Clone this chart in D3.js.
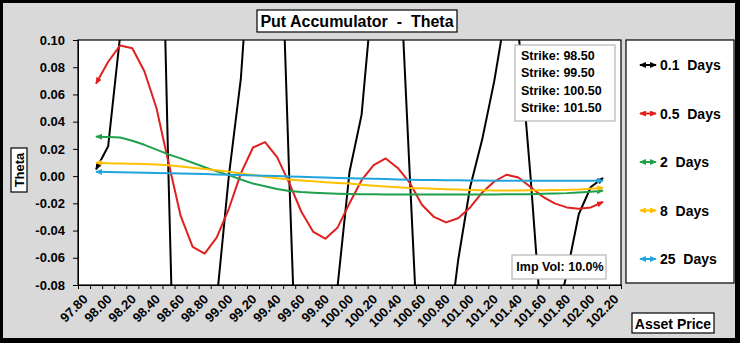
<!DOCTYPE html>
<html><head><meta charset="utf-8">
<script src="https://cdn.jsdelivr.net/npm/d3@7"></script>
<style>
body{margin:0;background:#000;}
svg{display:block;font-family:"Liberation Sans",Arial,sans-serif;font-weight:bold;}
</style>
</head><body><svg id="c" width="740" height="343"></svg>
<script>
// ---- data ----
const prices = [97.9,98.0,98.1,98.2,98.3,98.4,98.5,98.6,98.7,98.8,98.9,99.0,99.1,99.2,99.3,99.4,99.5,99.6,99.7,99.8,99.9,
  100.0,100.1,100.2,100.3,100.4,100.5,100.6,100.7,100.8,100.9,101.0,101.1,101.2,101.3,101.4,101.5,101.6,101.7,101.8,101.9,102.0,102.1];
const xTickLabels = ["97.80","98.00","98.20","98.40","98.60","98.80","99.00","99.20","99.40","99.60","99.80","100.00",
  "100.20","100.40","100.60","100.80","101.00","101.20","101.40","101.60","101.80","102.00","102.20"];
const yTicks = [0.10,0.08,0.06,0.04,0.02,0.00,-0.02,-0.04,-0.06,-0.08];
const theta01 = [0.005,0.022,0.104,0.22,0.33,0.38,0.000,-0.34,-0.30,-0.20,-0.091,0.000,0.072,0.20,0.26,0.27,0.001,-0.25,-0.22,-0.15,-0.082,
  0.003,0.045,0.143,0.19,0.187,0.000,-0.186,-0.17,-0.133,-0.062,-0.008,0.027,0.070,0.123,0.107,0.000,-0.12,-0.11,-0.072,-0.028,-0.008,-0.0015];
const theta05 = [0.068,0.084,0.096,0.094,0.077,0.050,0.010,-0.029,-0.052,-0.057,-0.045,-0.024,0.002,0.021,0.025,0.014,-0.005,-0.026,-0.041,-0.046,-0.038,
  -0.020,-0.003,0.008,0.013,0.006,-0.005,-0.021,-0.030,-0.034,-0.031,-0.023,-0.012,-0.004,0.001,-0.001,-0.008,-0.015,-0.020,-0.023,-0.024,-0.023,-0.019];
const theta2 = [0.029,0.0288,0.0283,0.026,0.023,0.0195,0.016,0.013,0.0098,0.0065,0.0035,0.0007,-0.0025,-0.0055,-0.0075,-0.0095,-0.011,-0.0117,-0.0122,-0.0126,-0.0129,
  -0.0131,-0.0133,-0.0134,-0.0135,-0.0135,-0.0135,-0.0135,-0.0135,-0.0135,-0.0135,-0.0135,-0.0135,-0.0135,-0.0134,-0.0134,-0.0133,-0.013,-0.0128,-0.0125,-0.012,-0.0115,-0.0107];
const theta8 = [0.0099,0.0095,0.0093,0.0091,0.0089,0.0085,0.0079,0.0071,0.0062,0.0053,0.0043,0.0033,0.0020,0.0009,-0.0005,-0.0016,-0.0025,-0.0032,-0.0038,-0.0045,-0.0050,
  -0.0055,-0.0063,-0.0070,-0.0076,-0.0082,-0.0087,-0.0090,-0.0093,-0.0096,-0.0099,-0.0102,-0.0104,-0.0106,-0.0106,-0.0105,-0.0104,-0.0103,-0.0102,-0.0101,-0.0098,-0.0092,-0.0085];
const theta25 = [0.0032,0.0030,0.0028,0.0027,0.0025,0.0023,0.0021,0.0019,0.0017,0.0015,0.0012,0.0010,0.0008,0.0005,0.0003,0.0000,-0.0003,-0.0005,-0.0008,-0.0010,-0.0013,
  -0.0015,-0.0018,-0.0020,-0.0022,-0.0024,-0.0026,-0.0028,-0.0029,-0.0030,-0.0031,-0.0032,-0.0033,-0.0034,-0.0034,-0.0034,-0.0034,-0.0034,-0.0034,-0.0034,-0.0034,-0.0034,-0.0034];
const seriesNames = ["0.1  Days","0.5  Days","2  Days","8  Days","25  Days"];
const seriesColors = ["#000000","#e0201f","#1fa04b","#ffc000","#1fa5db"];
const strikes = ["98.50","99.50","100.50","101.50"];
const impVol = "10.0%";
const chartTitle = "Put Accumulator  -  Theta";

// ---- drawing ----
const seriesValues = [theta01, theta05, theta2, theta8, theta25];
const svg = d3.select("#c");
const W = 740, H = 343;
const L = 78, R = 621, T = 40, B = 285;

svg.append("rect").attr("x",0).attr("y",0).attr("width",W).attr("height",H).attr("fill","#000");
svg.append("rect").attr("x",3).attr("y",3).attr("width",732).attr("height",335).attr("fill","#d9d9d9");

const x = d3.scaleLinear().domain([97.75, 102.25]).range([L, R]);
const y = d3.scaleLinear().domain([-0.08, 0.10]).range([B, T]);

const defs = svg.append("defs");
defs.append("clipPath").attr("id","plotclip").append("rect").attr("x",L).attr("y",T).attr("width",R-L).attr("height",B-T);
seriesColors.forEach((c,i)=>{
  defs.append("marker").attr("id","arr"+i).attr("viewBox","0 0 7 6").attr("refX",6).attr("refY",3)
    .attr("markerWidth",7).attr("markerHeight",6).attr("markerUnits","userSpaceOnUse").attr("orient","auto-start-reverse")
    .append("path").attr("d","M0,0 L7,3 L0,6 Z").attr("fill",c);
});

// plot area
svg.append("rect").attr("x",L).attr("y",T).attr("width",R-L).attr("height",B-T).attr("fill","#fff");

// series
const gLines = svg.append("g").attr("clip-path","url(#plotclip)");
const line = d3.line().x((d,i)=>x(prices[i])).y(d=>y(d));
seriesValues.forEach((vals,i)=>{
  gLines.append("path").attr("d", line(vals)).attr("fill","none").attr("stroke",seriesColors[i])
    .attr("stroke-width",2).attr("stroke-linejoin","round")
    .attr("marker-start","url(#arr"+i+")").attr("marker-end","url(#arr"+i+")");
});

svg.append("rect").attr("x",L).attr("y",T).attr("width",R-L).attr("height",B-T).attr("fill","none").attr("stroke","#000").attr("stroke-width",1.2);

// y axis
const yAxis = svg.append("g").attr("transform",`translate(${L},0)`)
  .call(d3.axisLeft(y).tickValues(yTicks).tickSize(5).tickSizeOuter(0).tickPadding(8).tickFormat(d=>d.toFixed(2)));
yAxis.selectAll("text").attr("font-size",13).attr("font-weight","bold").attr("fill","#000").attr("font-family","Liberation Sans, Arial, sans-serif");
yAxis.select(".domain").attr("stroke","#000");

// x axis ticks at category boundaries
const boundaries = d3.range(46).map(k => 97.75 + k*0.1);
const xAxis = svg.append("g").attr("transform",`translate(0,${B})`)
  .call(d3.axisBottom(x).tickValues(boundaries).tickSize(4).tickSizeOuter(0).tickFormat(""));
xAxis.select(".domain").attr("stroke","#000");
const labelVals = xTickLabels.map(Number);
const xLab = svg.append("g").attr("transform",`translate(0,${B})`)
  .call(d3.axisBottom(x).tickValues(labelVals).tickSize(0).tickFormat((d,i)=>xTickLabels[i]));
xLab.select(".domain").remove();
xLab.selectAll("text").attr("x",0).attr("y",0).attr("dy",0).attr("text-anchor","end")
  .attr("transform","translate(4,15) rotate(-45)").attr("font-size",13).attr("font-weight","bold")
  .attr("fill","#000").attr("font-family","Liberation Sans, Arial, sans-serif");

// title
svg.append("rect").attr("x",257).attr("y",10).attr("width",200).attr("height",22).attr("fill","#fff").attr("stroke","#000").attr("stroke-width",1.2);
svg.append("text").attr("x",357).attr("y",21).attr("text-anchor","middle").attr("dominant-baseline","central")
  .attr("font-size",16).style("white-space","pre").text(chartTitle);

// y title
svg.append("rect").attr("x",11).attr("y",148).attr("width",16).attr("height",44).attr("fill","#fff").attr("stroke","#000").attr("stroke-width",1.2);
svg.append("text").attr("transform","translate(19.5,170) rotate(-90)").attr("text-anchor","middle").attr("dominant-baseline","central")
  .attr("font-size",13).text("Theta");

// x title
svg.append("rect").attr("x",632).attr("y",313).attr("width",82).attr("height",20).attr("fill","#fff").attr("stroke","#000").attr("stroke-width",1.2);
svg.append("text").attr("x",673).attr("y",323.5).attr("text-anchor","middle").attr("dominant-baseline","central")
  .attr("font-size",14).text("Asset Price");

// legend
svg.append("rect").attr("x",626).attr("y",40).attr("width",108).attr("height",243).attr("fill","#fff").attr("stroke","#000").attr("stroke-width",1.2);
seriesNames.forEach((n,i)=>{
  const yy = 65 + i*48.5;
  svg.append("line").attr("x1",640).attr("x2",656).attr("y1",yy).attr("y2",yy).attr("stroke",seriesColors[i]).attr("stroke-width",2)
    .attr("marker-start","url(#arr"+i+")").attr("marker-end","url(#arr"+i+")");
  svg.append("text").attr("x",660).attr("y",yy).attr("dominant-baseline","central").attr("font-size",14)
    .style("white-space","pre").text(n);
});

// strike box
svg.append("rect").attr("x",515).attr("y",45).attr("width",100).attr("height",76).attr("fill","#fff").attr("stroke","#a6a6a6").attr("stroke-width",1);
strikes.forEach((s,i)=>{
  svg.append("text").attr("x",521).attr("y",56 + i*17.4).attr("dominant-baseline","central").attr("font-size",12.5)
    .text("Strike: " + s);
});

// imp vol box
svg.append("rect").attr("x",512).attr("y",255).attr("width",94).attr("height",24).attr("fill","#fff").attr("stroke","#a6a6a6").attr("stroke-width",1);
svg.append("text").attr("x",560).attr("y",267).attr("text-anchor","middle").attr("dominant-baseline","central").attr("font-size",12.5)
  .text("Imp Vol: " + impVol);
</script>
</body></html>
